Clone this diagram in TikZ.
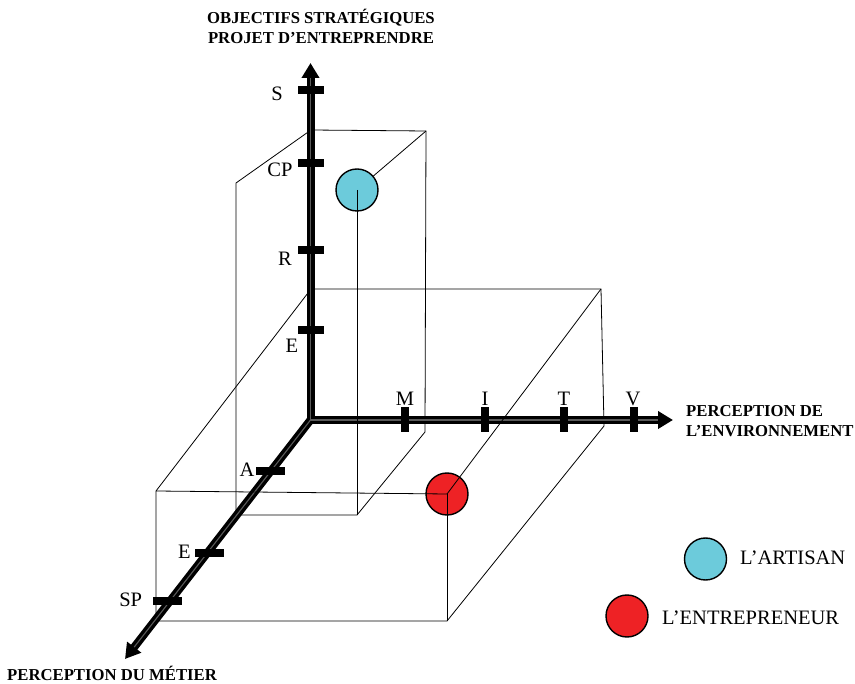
\documentclass[tikz,border=0pt]{standalone}
\usepackage{fontspec}
\setmainfont{Liberation Serif}
\usetikzlibrary{arrows.meta}
\definecolor{cyanc}{HTML}{6CCBDB}
\definecolor{redc}{HTML}{EE2225}
\definecolor{axisin}{HTML}{5A5A5A}
\begin{document}
\begin{tikzpicture}[x=1pt,y=-1pt,
  edge/.style={line width=0.8pt,black},
  axisline/.style={line width=8pt,black,-{Triangle[length=15pt,width=17pt]}},
  axisdbl/.style={line width=8pt,black,{Triangle[length=15pt,width=17pt]}-{Triangle[length=15pt,width=17pt]}},
  axisinner/.style={line width=1.1pt,axisin},
  tickh/.style={fill=black,draw=none,minimum width=26pt,minimum height=8pt,inner sep=0pt},
  tickd/.style={fill=black,draw=none,minimum width=29pt,minimum height=8pt,inner sep=0pt},
  tickv/.style={fill=black,draw=none,minimum width=8pt,minimum height=25pt,inner sep=0pt},
  lab/.style={font=\fontsize{20.5}{23}\selectfont,inner sep=0pt,anchor=base},
  labw/.style={font=\fontsize{20.5}{23}\selectfont,inner sep=0pt,anchor=base west},
  ttl/.style={font=\bfseries\fontsize{16.7}{19}\selectfont,inner sep=0pt,anchor=base},
  ttlw/.style={font=\bfseries\fontsize{16.7}{19}\selectfont,inner sep=0pt,anchor=base west},
  ball/.style={circle,draw=black,line width=1.4pt,minimum size=42pt,inner sep=0pt}]
\useasboundingbox (0,0) rectangle (855,684);

% ---- box 1 (artisan)
\coordinate (B1a) at (236,183);
\coordinate (B1b) at (311,130);
\coordinate (B1c) at (426,131);
\coordinate (B1d) at (357,190);
\coordinate (B1e) at (425,432);
\coordinate (B1f) at (357,515);
\coordinate (B1g) at (236,515);
% ---- box 2 (entrepreneur)
\coordinate (B2a) at (156,491);
\coordinate (B2b) at (311,289);
\coordinate (B2c) at (601,289);
\coordinate (B2d) at (447,494);
\coordinate (B2e) at (604,426);
\coordinate (B2f) at (447,621);
\coordinate (B2g) at (156,621);

\draw[edge] (B1a) -- (B1b) -- (B1c) -- (B1e) -- (B1f) -- (B1g) -- cycle;
\draw[edge] (B1c) -- (B1d);
\draw[edge] (B2a) -- (B2b) -- (B2c) -- (B2e) -- (B2f) -- (B2g) -- cycle;

% ---- axes
\coordinate (O) at (310.5,420);
\coordinate (Yt) at (310.5,63);
\coordinate (Yb) at (310.5,78);
\coordinate (Xt) at (673,420);
\coordinate (Xb) at (658,420);
\coordinate (Zt) at (125,659);
\coordinate (Zb) at (134.2,647.1);
\draw[axisdbl] (Yt) -- (O) -- (Xt);
\draw[axisline] (O) -- (Zt);
\draw[axisinner] (Yb) -- (O) -- (Xb);
\draw[axisinner] (O) -- (Zb);

% ---- ticks
\node[tickh] (tS)  at (310.5,90.5) {};
\node[tickh] (tCP) at (310.5,163) {};
\node[tickh] (tR)  at (310.5,250) {};
\node[tickh] (tE)  at (310.5,330.5) {};
\node[tickv] (tM)  at (405,420) {};
\node[tickv] (tI)  at (485,420) {};
\node[tickv] (tT)  at (564,420) {};
\node[tickv] (tV)  at (634,420) {};
\node[tickd] (tA)  at (270,471.5) {};
\node[tickd] (tE2) at (209,553) {};
\node[tickd] (tSP) at (167,601.5) {};

% ---- tick labels
\node[lab] (lS)  at (277,100.7) {S};
\node[lab] (lCP) at (280,177) {CP};
\node[lab] (lR)  at (285,266) {R};
\node[lab] (lE)  at (292,353) {E};
\node[lab] (lM)  at (405,405.7) {M};
\node[lab] (lI)  at (485,405.7) {I};
\node[lab] (lT)  at (564,405.7) {T};
\node[lab] (lV)  at (633,405.7) {V};
\node[lab] (lA)  at (247,477) {A};
\node[lab] (lE2) at (184.5,559) {E};
\node[lab] (lSP) at (130.7,606.7) {SP};

% ---- circles
\node[ball,fill=cyanc] (art) at (B1d) {};
\draw[edge] (art.center) -- (B1f);
\node[ball,fill=redc] (ent) at (B2d) {};
\draw[edge] (B2a) -- (ent.center);
\draw[edge] (ent.center) -- (B2f);
\draw[edge] (ent.center) -- (B2c);

% ---- axis titles
\node[ttl] (t1) at (321,23.3) {OBJECTIFS STRATÉGIQUES};
\node[ttl] (t2) at (321,43.3) {PROJET D’ENTREPRENDRE};
\node[ttlw] (t3) at (686,416.7) {PERCEPTION DE};
\node[ttlw] (t4) at (686,436.7) {L’ENVIRONNEMENT};
\node[ttlw] (t5) at (7,680) {PERCEPTION DU MÉTIER};

% ---- legend
\node[ball,fill=cyanc] (legA) at (705.5,559) {};
\node[labw] (legAt) at (740,565) {L’ARTISAN};
\node[ball,fill=redc] (legE) at (627,616) {};
\node[labw] (legEt) at (662,624) {L’ENTREPRENEUR};
\end{tikzpicture}
\end{document}
